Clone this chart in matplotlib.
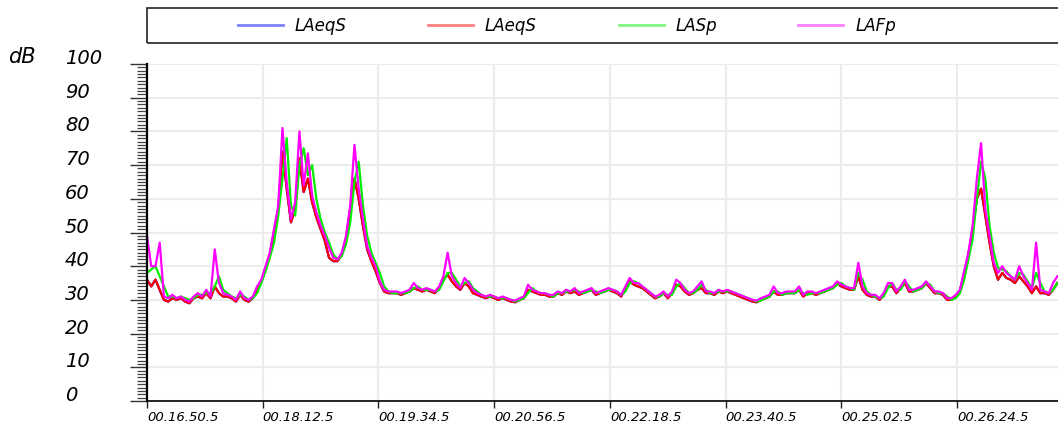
"""Sound level log chart (LAeqS / LASp / LAFp) over ten minutes."""

from __future__ import annotations

import matplotlib

matplotlib.use("Agg")

import numpy as np
import matplotlib.pyplot as plt
from matplotlib.patches import Rectangle
from matplotlib.ticker import MultipleLocator

# sample clock: seconds since midnight, one value every 3 s from 00:16:50.5
START_S = 1010.5
STEP_S = 3.0
END_S = 1656.0

LAFP = [
    49, 40, 40, 47, 31, 30.5, 31.5, 30.5, 31, 30, 29.5, 31,
    32, 31, 33, 31, 45, 35, 32, 31.5, 31, 30, 32.5, 30.5,
    30, 31, 34, 36, 40, 44, 51, 58, 81, 65, 54, 59,
    80, 64, 73.5, 61, 56, 52, 49, 45.5, 42.5, 42, 44, 49,
    58, 76, 63, 54, 46, 42.5, 40, 35.5, 33, 32.5, 32.5, 32.5,
    32, 32.5, 33, 35, 33.5, 33, 33.5, 33, 32.5, 34, 37, 44,
    37, 35, 33.5, 36.5, 35, 33, 32, 31.5, 31, 31.5, 31, 30.5,
    31, 30.5, 30, 29.8, 30.5, 31, 34.5, 33, 32.5, 32, 32, 31.5,
    31.5, 32.5, 32, 33, 32.5, 33.5, 32, 32.5, 33, 33.5, 32, 32.5,
    33, 33.5, 33, 32.5, 31.5, 34, 36.5, 35, 35, 34, 33, 32,
    31, 31.5, 32.5, 31, 32.5, 36, 35, 33, 32, 32.5, 34, 35.5,
    32.5, 32.5, 32, 33, 32.5, 33, 32.5, 32, 31.5, 31, 30.5, 30,
    29.8, 30.5, 31, 31.5, 34, 32, 32, 32.5, 32.5, 32.5, 34, 31.5,
    32.5, 32.5, 32, 32.5, 33, 33.5, 34, 35.5, 34.5, 34, 33.5, 33.5,
    41, 34, 32, 31.5, 31.5, 30.5, 32, 35, 35, 32.5, 34, 36,
    33, 33, 33.5, 34, 35.5, 34, 32.5, 32.5, 32, 30.5, 30.5, 31.5,
    33, 38.5, 44, 52, 66, 76.5, 57, 49, 41, 38, 40, 38,
    37, 36, 40, 37, 35, 33, 47, 33, 32.5, 32, 35, 37,
]

LAEQS = [
    36, 34, 36, 33, 30, 29.5, 30.5, 30, 30.5, 29.5, 29, 30.5,
    31, 30.5, 32, 30.5, 34, 32, 31, 31, 30.5, 29.5, 31.5, 30,
    29.5, 30.5, 33, 35.5, 39.5, 43.5, 50, 57, 74, 63, 53, 57,
    72, 62, 66, 59, 54.5, 51, 47.5, 42.5, 41.5, 41.5, 43.5, 48,
    57, 66, 60, 52, 45, 41.5, 38.5, 35, 32.5, 32, 32, 32,
    31.5, 32, 32.5, 33.5, 33, 32.5, 33, 32.5, 32, 33.5, 36, 37.5,
    35.5, 34, 33, 35, 34, 32, 31.5, 31, 30.5, 31, 30.5, 30,
    30.5, 30, 29.5, 29.3, 30, 30.5, 33, 32.5, 32, 31.5, 31.5, 31,
    31, 32, 31.5, 32.5, 32, 32.5, 31.5, 32, 32.5, 33, 31.5, 32,
    32.5, 33, 32.5, 32, 31, 33.5, 35.5, 34.5, 34, 33.5, 32.5, 31.5,
    30.5, 31, 32, 30.5, 32, 34.5, 34, 32.5, 31.5, 32, 33, 33.5,
    32, 32, 31.5, 32.5, 32, 32.5, 32, 31.5, 31, 30.5, 30, 29.5,
    29.3, 30, 30.5, 31, 32.5, 31.5, 31.5, 32, 32, 32, 33, 31,
    32, 32, 31.5, 32, 32.5, 33, 33.5, 35, 34, 33.5, 33, 33,
    37, 33, 31.5, 31, 31, 30, 31.5, 34, 34, 32, 33.5, 35,
    32.5, 32.5, 33, 33.5, 35, 33.5, 32, 32, 31.5, 30, 30, 31,
    32.5, 38, 43.5, 51, 60, 63, 55, 47, 40, 36, 38, 36.5,
    36, 35, 37, 35.5, 34, 32, 34, 32, 32, 31.5, 33, 35,
]

LASP = [
    38, 39, 40, 37, 34, 31, 31, 30.5, 31, 30.5, 30, 30.5,
    31.5, 31.5, 32, 32, 34, 37, 33, 32, 31, 30.5, 31.5, 31,
    30, 30.5, 32, 35, 38.5, 42.5, 47, 55, 66, 78, 58, 55,
    70, 75, 67, 70, 60, 54, 50, 47, 43.5, 42, 43, 46.5,
    53, 65, 71, 58, 49, 44, 41, 38, 34, 32.5, 32, 32,
    32, 32, 32.5, 33.5, 34, 33, 33, 33, 32.5, 33, 35.5, 38,
    38, 36, 34, 35, 35.5, 33.5, 32.5, 31.5, 31, 31, 31, 30.5,
    30.5, 30.5, 30, 29.5, 30, 30.5, 32, 33.5, 32.5, 32, 32, 31.5,
    31, 32, 32, 32.5, 32.5, 33, 32.5, 32, 32.5, 33, 32.5, 32,
    32.5, 33, 33, 32.5, 31.5, 32.5, 35, 35.5, 35, 34, 33, 32,
    31, 31, 32, 31.5, 31.5, 34, 35, 33.5, 32, 32, 33, 34.5,
    33, 32, 32, 32.5, 32.5, 32.5, 32.5, 32, 31.5, 31, 30.5, 30,
    29.5, 29.8, 30.5, 31, 32.5, 32.5, 31.5, 32, 32, 32, 33, 32,
    31.5, 32, 32, 32, 32.5, 33, 33.5, 34.5, 35, 34, 33.5, 33,
    38, 36, 32.5, 31.5, 31, 30.5, 31, 33.5, 35, 33, 33, 35.5,
    34, 32.5, 33, 33.5, 35, 34.5, 32.5, 32, 32, 31, 30, 30.5,
    32, 36, 42, 48, 60, 71, 66, 52, 44, 39.5, 39, 38.5,
    37, 36, 38, 37.5, 35.5, 33.5, 38, 35, 32.5, 32, 33, 35,
]

SERIES_NAMES = ["LAeqS", "LAeqS", "LASp", "LAFp"]
SERIES_COLORS = ["#0000ff", "#ff0000", "#00f000", "#ff00ff"]

TICK_TIMES = [1010.5, 1092.5, 1174.5, 1256.5, 1338.5, 1420.5, 1502.5, 1584.5]
TICK_LABELS = [
    "00.16.50.5", "00.18.12.5", "00.19.34.5", "00.20.56.5",
    "00.22.18.5", "00.23.40.5", "00.25.02.5", "00.26.24.5",
]
Y_TICKS = [0, 10, 20, 30, 40, 50, 60, 70, 80, 90, 100]

FONT = ["DejaVu Sans"]


def plot_levels() -> plt.Figure:
    fig = plt.figure(figsize=(10.58, 4.26), dpi=100)
    ax = fig.add_axes([147 / 1058, 1 - 401 / 426, 1 - 147 / 1058, 337 / 426])

    times = START_S + STEP_S * np.arange(len(LAFP))
    # blue LAeqS sits under the red one
    for name, values, color in zip(SERIES_NAMES, [LAEQS, LAEQS, LASP, LAFP], SERIES_COLORS):
        ax.plot(times, values, color=color, lw=1.6, label=name)

    ax.set_xlim(START_S, END_S)
    ax.set_ylim(0, 100)

    ax.set_xticks(TICK_TIMES)
    ax.set_xticklabels(TICK_LABELS, fontsize=9.5, style="italic", family=FONT)
    for lbl in ax.get_xticklabels():
        lbl.set_ha("left")
    ax.tick_params(axis="x", length=5, width=1, color="#222222", pad=2)

    ax.set_yticks(Y_TICKS)
    ax.set_yticklabels([str(v) for v in Y_TICKS], fontsize=14, style="italic", family=FONT)
    ax.yaxis.set_minor_locator(MultipleLocator(1))
    ax.tick_params(axis="y", which="major", length=12, width=1, color="#333333", pad=47)
    ax.tick_params(axis="y", which="minor", length=7, width=0.9, color="#444444")
    for lbl in ax.get_yticklabels():
        lbl.set_ha("left")
        lbl.set_va("baseline")

    ax.grid(True, which="major", color="#ececec", lw=1.5)
    ax.set_axisbelow(True)
    for side in ("top", "right"):
        ax.spines[side].set_visible(False)
    ax.spines["left"].set_linewidth(1.6)
    ax.spines["bottom"].set_linewidth(1.2)

    fig.text(8 / 1058, 1 - 57 / 426, "dB", fontsize=15, style="italic", family=FONT, va="center")

    # legend frame runs off the right edge
    fig.patches.append(Rectangle((147 / 1058, 1 - 43 / 426), 0.9, 35 / 426, transform=fig.transFigure,
                                 fill=False, edgecolor="#222222", lw=1.2, clip_on=False))
    leg = fig.legend(loc="center", bbox_to_anchor=(567 / 1058, 1 - 26 / 426), ncol=4, frameon=False,
                     prop={"family": FONT, "style": "italic", "size": 12},
                     handlelength=2.7, handletextpad=0.7, columnspacing=4.9)
    for h in leg.legend_handles:
        h.set_alpha(0.5)
        h.set_linewidth(2)
    return fig


if __name__ == "__main__":
    fig = plot_levels()
    fig.savefig("out.png", dpi=100)
    plt.close(fig)
